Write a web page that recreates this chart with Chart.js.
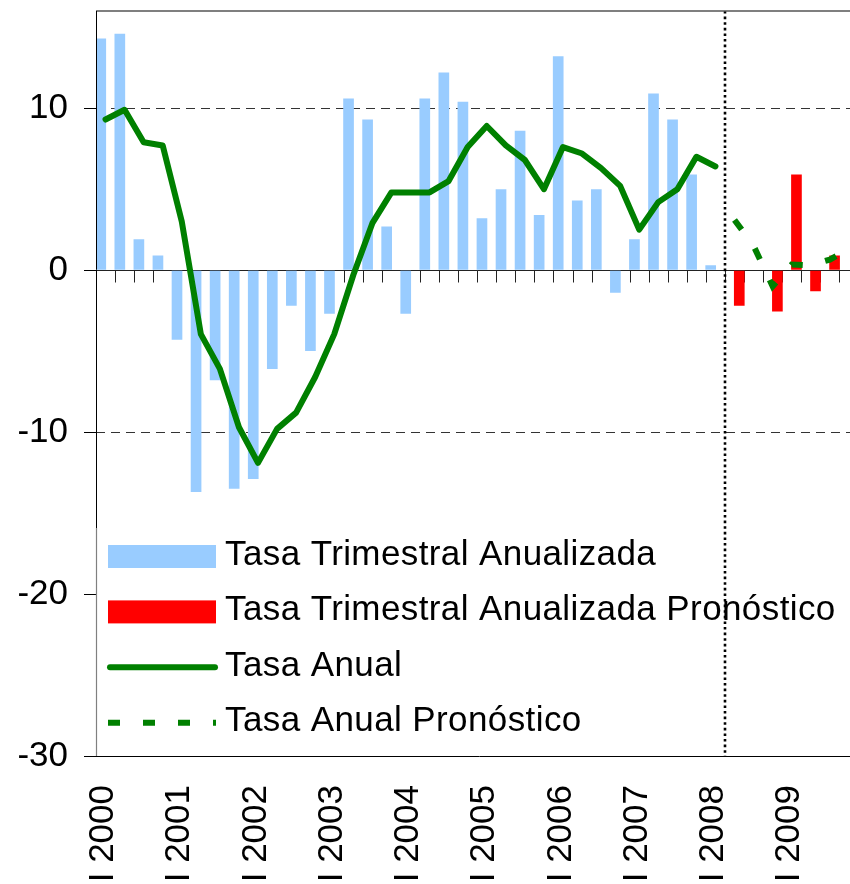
<!DOCTYPE html>
<html>
<head>
<meta charset="utf-8">
<script src="https://cdn.jsdelivr.net/npm/chart.js@4"></script>
<style>
  html, body { margin: 0; padding: 0; background: #fff; overflow: hidden; }
  #marco { position: absolute; left: 0; top: 0; width: 862px; height: 920px; }
</style>
</head>
<body>
<div id="marco"><canvas id="grafico" width="862" height="920"></canvas></div>
<script>
const anios = [2000, 2001, 2002, 2003, 2004, 2005, 2006, 2007, 2008, 2009];
const trimestres = ['I', 'II', 'III', 'IV'];
const categorias = anios.flatMap(a => trimestres.map(t => t + ' ' + a));

// tasa trimestral anualizada (observada)
const tasaTrimestral = [
  14.3, 14.6, 1.9, 0.9,
  -4.3, -13.7, -6.8, -13.5,
  -12.9, -6.1, -2.2, -5.0,
  -2.7, 10.6, 9.3, 2.7,
  -2.7, 10.6, 12.2, 10.4,
  3.2, 5.0, 8.6, 3.4,
  13.2, 4.3, 5.0, -1.4,
  1.9, 10.9, 9.3, 5.9,
  0.3, null, null, null,
  null, null, null, null
];

// tasa trimestral anualizada (pronóstico)
const tasaTrimestralPron = [
  null, null, null, null,
  null, null, null, null,
  null, null, null, null,
  null, null, null, null,
  null, null, null, null,
  null, null, null, null,
  null, null, null, null,
  null, null, null, null,
  null, -2.2, null, -2.55,
  5.9, -1.3, 0.9, null
];

// tasa anual
const tasaAnual = [
  9.3, 9.9, 7.9, 7.7,
  3.0, -3.95, -6.1, -9.7,
  -11.9, -9.8, -8.8, -6.6,
  -3.95, -0.3, 2.9, 4.8,
  4.8, 4.8, 5.5, 7.6,
  8.9, 7.7, 6.8, 5.0,
  7.6, 7.2, 6.3, 5.2,
  2.5, 4.2, 5.0, 7.0,
  6.4, null, null, null,
  null, null, null, null
];

// tasa anual (pronóstico)
const tasaAnualPron = [
  null, null, null, null,
  null, null, null, null,
  null, null, null, null,
  null, null, null, null,
  null, null, null, null,
  null, null, null, null,
  null, null, null, null,
  null, null, null, null,
  null, 3.1, 1.5, -1.0,
  0.35, 0.3, 0.65, 1.3
];

const marcasY = [10, 0, -10, -20, -30];
const lineasGuia = [10, -10, -20];

const azul = '#99CCFF';
const rojo = '#FF0000';
const verde = '#008000';
const fuente = '"Liberation Sans", Arial, sans-serif';

const extras = {
  id: 'extras',
  beforeDatasetsDraw(chart) {
    const { ctx, chartArea: a, scales: { x, y } } = chart;
    const y0 = Math.round(y.getPixelForValue(0)) + 0.5;
    const paso = x.getPixelForValue(1) - x.getPixelForValue(0);
    ctx.save();
    ctx.strokeStyle = '#222';
    ctx.lineWidth = 1;
    ctx.beginPath();
    ctx.moveTo(a.left, y0);
    ctx.lineTo(a.right, y0);
    for (let i = 1; i < categorias.length; i++) {
      const px = Math.round(x.getPixelForValue(i) - paso / 2) + 0.5;
      ctx.moveTo(px, y0);
      ctx.lineTo(px, y0 + 12);
    }
    ctx.stroke();
    ctx.restore();
  },
  afterDatasetsDraw(chart) {
    const { ctx, chartArea: a, scales: { x } } = chart;
    const arribaLey = 528;
    ctx.save();

    // cuadro de leyenda
    ctx.fillStyle = '#fff';
    ctx.fillRect(a.left + 0.5, arribaLey, a.right - a.left + 10, a.bottom - arribaLey);
    ctx.strokeStyle = '#808080';
    ctx.lineWidth = 1.2;
    ctx.beginPath();
    ctx.moveTo(a.left + 0.5, arribaLey);
    ctx.lineTo(a.left + 0.5, a.bottom);
    ctx.stroke();

    ctx.font = '35px ' + fuente;
    ctx.letterSpacing = '0.4px';
    ctx.textBaseline = 'alphabetic';
    ctx.textAlign = 'left';
    chart.data.datasets.forEach((ds, k) => {
      const base = 565 + k * 55.4;
      const medio = base - 8.5;
      if (ds.type === 'line') {
        ctx.strokeStyle = ds.borderColor;
        ctx.lineWidth = ds.borderWidth;
        ctx.setLineDash(ds.borderDash || []);
        ctx.lineCap = ds.borderDash ? 'butt' : 'round';
        ctx.beginPath();
        if (ds.borderDash) {
          ctx.moveTo(108, medio);
          ctx.lineTo(216, medio);
        } else {
          ctx.moveTo(110, medio);
          ctx.lineTo(215, medio);
        }
        ctx.stroke();
        ctx.setLineDash([]);
      } else {
        ctx.fillStyle = ds.backgroundColor;
        ctx.fillRect(108, medio - 11.5, 108, 23);
      }
      ctx.fillStyle = '#000';
      ctx.fillText(ds.label, 225, base);
    });

    // línea punteada de inicio del pronóstico
    const xp = Math.round((x.getPixelForValue(32) + x.getPixelForValue(33)) / 2);
    ctx.strokeStyle = '#000';
    ctx.lineWidth = 2.6;
    ctx.lineCap = 'butt';
    ctx.setLineDash([2.6, 3]);
    ctx.beginPath();
    ctx.moveTo(xp, a.top);
    ctx.lineTo(xp, a.bottom);
    ctx.stroke();
    ctx.setLineDash([]);

    // marco del gráfico
    ctx.strokeStyle = '#555';
    ctx.lineWidth = 1.5;
    ctx.beginPath();
    ctx.moveTo(a.left, a.top);
    ctx.lineTo(a.right + 5, a.top);
    ctx.stroke();
    ctx.strokeStyle = '#000';
    ctx.lineWidth = 1;
    ctx.beginPath();
    ctx.moveTo(a.left + 0.5, a.top);
    ctx.lineTo(a.left + 0.5, arribaLey);
    ctx.moveTo(a.left, Math.round(a.bottom) + 0.5);
    ctx.lineTo(a.right + 5, Math.round(a.bottom) + 0.5);
    ctx.stroke();
    ctx.restore();
  }
};

new Chart(document.getElementById('grafico'), {
  data: {
    labels: categorias,
    datasets: [
      {
        type: 'bar',
        label: 'Tasa Trimestral Anualizada',
        data: tasaTrimestral,
        backgroundColor: azul,
        categoryPercentage: 1,
        barPercentage: 1.12,
        order: 2
      },
      {
        type: 'bar',
        label: 'Tasa Trimestral Anualizada Pronóstico',
        data: tasaTrimestralPron,
        backgroundColor: rojo,
        categoryPercentage: 1,
        barPercentage: 1.12,
        order: 2
      },
      {
        type: 'line',
        label: 'Tasa Anual',
        data: tasaAnual,
        borderColor: verde,
        borderWidth: 6,
        borderCapStyle: 'round',
        borderJoinStyle: 'round',
        pointRadius: 0,
        tension: 0,
        spanGaps: false,
        order: 1
      },
      {
        type: 'line',
        label: 'Tasa Anual Pronóstico',
        data: tasaAnualPron,
        borderColor: verde,
        borderWidth: 6,
        borderDash: [12, 23],
        borderCapStyle: 'butt',
        pointRadius: 0,
        tension: 0,
        spanGaps: false,
        order: 1
      }
    ]
  },
  options: {
    responsive: false,
    animation: false,
    devicePixelRatio: 1,
    layout: { padding: { left: 0, top: 11, right: 3.6, bottom: 0 } },
    plugins: {
      legend: { display: false },
      tooltip: { enabled: false }
    },
    scales: {
      x: {
        type: 'category',
        offset: true,
        grid: { display: false, drawTicks: false },
        border: { display: false },
        ticks: {
          autoSkip: false,
          minRotation: 90,
          maxRotation: 90,
          padding: 29,
          labelOffset: -2,
          color: '#000',
          font: { family: fuente, size: 35 },
          callback: (v, i) => (i % 4 === 0 ? categorias[i] : '')
        },
        afterFit: s => {
          s.height = 920 - 756;
          s.paddingLeft = 0;
          s.paddingRight = 0;
        }
      },
      y: {
        min: -30,
        max: 16,
        afterBuildTicks: s => {
          s.ticks = marcasY.map(v => ({ value: v }));
        },
        grid: {
          color: c => (c.tick && lineasGuia.includes(c.tick.value) ? '#333' : 'rgba(0,0,0,0)'),
          tickColor: '#000',
          tickLength: 12,
          lineWidth: 1,
          borderDash: [9, 6]
        },
        border: { display: false, dash: [9, 6] },
        ticks: {
          padding: 16,
          color: '#000',
          font: { family: fuente, size: 35 }
        },
        afterFit: s => {
          s.width = 96;
          s.paddingTop = 0;
          s.paddingBottom = 0;
        }
      }
    }
  },
  plugins: [extras]
});
</script>
</body>
</html>
